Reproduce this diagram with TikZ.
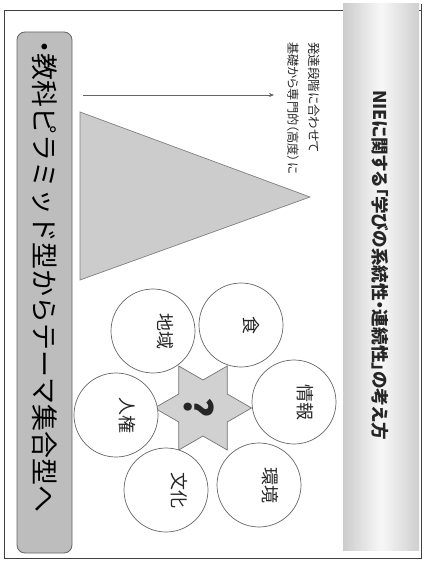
\documentclass[tikz,border=0pt]{standalone}
\usepackage{fontspec}
\setmainfont{Noto Sans CJK JP}
\newfontfamily\jpprop[RawFeature=+palt]{Noto Sans CJK JP}
\usetikzlibrary{shapes.geometric,arrows.meta}
\tikzset{
  frameline/.style={draw=black!75, line width=0.9pt},
  topic/.style={circle, draw=black!60, line width=0.7pt, fill=white, minimum size=84pt, inner sep=0pt},
  topiclab/.style={rotate=-90, font=\fontsize{18}{18}\selectfont, text=black!85},
  vtext/.style={rotate=-90, anchor=west, inner sep=0pt, text=black!85},
  hexstar/.style={star, star points=6, star point ratio=1.732, minimum size=97pt, inner sep=0pt,
    shape border rotate=30, draw=black!55, line width=0.7pt, fill=gray!36},
}
\begin{document}
\begin{tikzpicture}[x=1pt,y=-1pt]
\useasboundingbox (0,0) rectangle (427,564);
\fill[white] (0,0) rectangle (427,564);
% outer frame
\draw[frameline] (4,10) rectangle (421,558);
% title band
\shade[left color=gray!40, right color=gray!38, middle color=gray!6] (343,4) rectangle (419,550);
\draw[frameline] (421,4) -- (421,558);
\node[vtext, font=\jpprop\fontsize{17.6}{17.6}\selectfont\bfseries] (title) at (380,90) {NIEに関する「学びの系統性・連続性」の考え方};
% subtext
\node[vtext, font=\jpprop\fontsize{12.5}{12.5}\selectfont] (sub1) at (314,42) {発達段階に合わせて};
\node[vtext, font=\jpprop\fontsize{12.2}{12.2}\selectfont] (sub2) at (293,42) {基礎から専門的（高度）に};
% arrow
\coordinate (a1) at (83,95);
\coordinate (a2) at (274,95);
\draw[black!60, line width=0.7pt, -{Stealth[length=5pt,width=4pt]}] (a1) -- (a2);
% triangle
\coordinate (t1) at (80,112);
\coordinate (t2) at (80,280);
\coordinate (t3) at (310,197);
\filldraw[fill=gray!40, draw=black!50, line width=0.7pt] (t1) -- (t3) -- (t2) -- cycle;
% star
\node[hexstar] (hub) at (203,408) {};
% circles
\node[topic] (shoku) at (241,325) {};
\node[topic] (chiiki) at (153,331) {};
\node[topic] (joho) at (294,402) {};
\node[topic] (jinken) at (116,415) {};
\node[topic] (kankyo) at (259,485) {};
\node[topic] (bunka) at (166,490) {};
\node[topiclab] (lshoku) at ([xshift=10pt]shoku.center) {食};
\node[topiclab] (lchiiki) at ([xshift=12pt]chiiki.center) {地域};
\node[topiclab] (ljoho) at ([xshift=11pt]joho.center) {情報};
\node[topiclab] (ljinken) at ([xshift=11pt]jinken.center) {人権};
\node[topiclab] (lkankyo) at ([xshift=11pt]kankyo.center) {環境};
\node[topiclab] (lbunka) at ([xshift=13pt]bunka.center) {文化};
\node[rotate=-90, font=\fontsize{38}{38}\selectfont\bfseries, text=black!85] (q) at ([xshift=-4pt]hub.center) {?};
% bottom box
\draw[fill=gray!52, draw=black!60, line width=0.8pt, rounded corners=8pt] (17,32) rectangle (72,553);
\node[vtext, font=\fontsize{27}{27}\selectfont, text=black] (band) at (45,40) {{\jpprop ・}教科ピラミッド型からテーマ集合型へ};
\end{tikzpicture}
\end{document}
